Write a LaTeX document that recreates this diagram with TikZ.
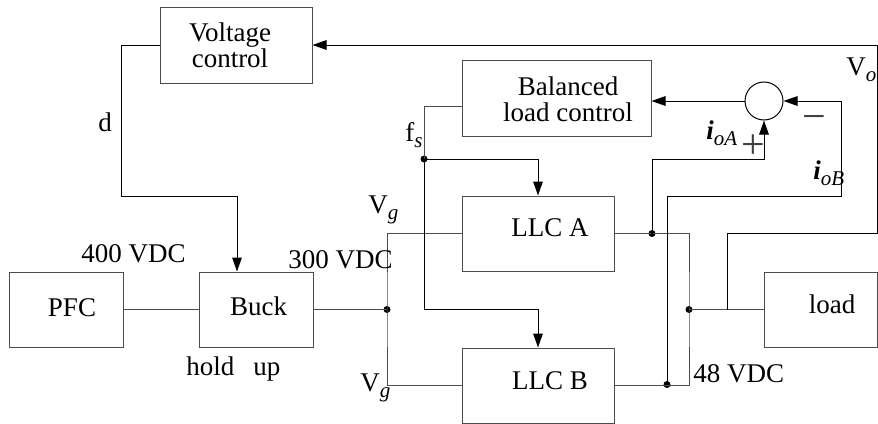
\documentclass[tikz,border=0pt]{standalone}
\usepackage{fontspec}
\setmainfont{Liberation Serif}
\usetikzlibrary{calc, positioning, arrows.meta}

\newcommand{\lowsub}[1]{\raisebox{-3pt}{\fontsize{10.5}{10.5}\selectfont\itshape #1}}

\begin{document}
\begin{tikzpicture}[
    x=0.5pt, y=-0.5pt,
    block/.style={
        rectangle,
        draw=black!70,
        line width=0.5pt,
        minimum width=76pt,
        minimum height=37.5pt,
        inner sep=0pt
    },
    txt/.style={
        font=\fontsize{13.5}{13}\selectfont,
        align=center,
        inner sep=0pt
    },
    sign/.style={
        font=\fontsize{21}{21}\selectfont,
        text=black!75,
        inner sep=0pt,
        anchor=base
    },
    sumpt/.style={circle, draw, line width=0.5pt, minimum size=19pt, inner sep=0pt},
    dot/.style={circle, fill, inner sep=0pt, minimum size=3.5pt},
    wire/.style={draw=black!70, line width=0.5pt},
    sigarr/.style={-{Triangle[length=7pt, width=4.8pt]}, line width=0.5pt}
]
\useasboundingbox (0,0) rectangle (878,423);

% Blocks
\node[block, minimum height=38pt,
      label={[txt, xshift=-3pt]center:Voltage\\control}] (vc) at (236,45) {};
\node[block, minimum width=57pt,
      label={[txt, xshift=3pt, yshift=0.75pt]center:PFC}] (pfc) at (66,309.5) {};
\node[block, minimum width=57pt, right=37.5pt of pfc,
      label={[txt, xshift=1.25pt, yshift=1.75pt]center:Buck}] (buck) {};
\node[block, minimum width=94.5pt, minimum height=38pt,
      label={[txt, xshift=5.75pt, yshift=-0.75pt]center:Balanced\\load control}] (blc) at (556.5,98) {};
\node[block, label={[txt, xshift=6pt, yshift=2.75pt]center:LLC A}] (llca) at (538,233.5) {};
\node[block, below=38pt of llca,
      label={[txt, xshift=6pt, yshift=2.5pt]center:LLC B}] (llcb) {};
\node[block, minimum width=56.5pt,
      label={[txt, xshift=5.75pt, yshift=2.75pt]center:load}] (load) at (820.5,309.5) {};

% Summing point
\node[sumpt] (sum) at (764,101) {};

% Junctions
\node[dot] (jin) at (387,309.5) {};
\node[dot] (jfs) at (424,159) {};
\node[dot] (ja) at (652,233.5) {};
\node[dot] (jb) at (667,384.5) {};
\node[dot] (jout) at (689,309.5) {};
\coordinate (tap) at (727,309.5);

% Power path
\draw[wire] (pfc) -- (buck);
\draw[wire] (buck) -- (jin.center);
\draw[wire] (llca.west) -| (jin.center) |- (llcb.west);
\draw[wire] (llca.east) -- (ja.center) -| (jout.center) |- (llcb.east);
\draw[wire] (jout.center) -- (load.west);

% Duty cycle from voltage control
\draw[sigarr] (vc.west) -| (121,196) -| ($(buck.north)+(-19,0)$);

% Switching frequency
\draw[wire] ($(blc.west)+(0,8)$) -| (jfs.center);
\draw[sigarr] (jfs.center) -| (llca.north);
\draw[sigarr] (jfs.center) -- (424,309.5) -| (llcb.north);

% Current sharing
\draw[sigarr] (ja.center) |- ($(sum.south)+(0,39)$) -- (sum.south);
\draw[sigarr] (jb.center) |- (841,196) |- (sum.east);
\draw[sigarr] (sum.west) -- (blc.east |- sum.west);

% Output voltage feedback
\draw[sigarr] (tap) |- (877,233) |- (vc.east);

% Labels
\node[txt, anchor=base west] (dlab) at (98,131) {d};
\node[txt, anchor=base west] (vin) at (81,262) {400 VDC};
\node[txt, anchor=base west] (vbus) at (288,268) {300 VDC};
\node[txt, anchor=base west] (hold) at (186,375) {hold\hspace{9.5pt}up};
\node[txt, anchor=base west] (vga) at (368,213) {V\lowsub{g}};
\node[txt, anchor=base west] (vgb) at (360,391) {V\lowsub{g}};
\node[txt, anchor=base west] (fs) at (405,141) {f\lowsub{s}};
\node[txt, anchor=base west] (vo) at (846,75) {V\lowsub{o}};
\node[txt, anchor=base west] (ioa) at (706,139) {\textbf{\textit{i}}\lowsub{oA}};
\node[txt, anchor=base west] (iob) at (813,179) {\textbf{\textit{i}}\lowsub{oB}};
\node[txt, anchor=base west] (vout) at (693,382) {48 VDC};
\node[sign] (plus) at (753,158.5) {+};
\node[sign] (minus) at (814,130.5) {−};
\end{tikzpicture}
\end{document}
